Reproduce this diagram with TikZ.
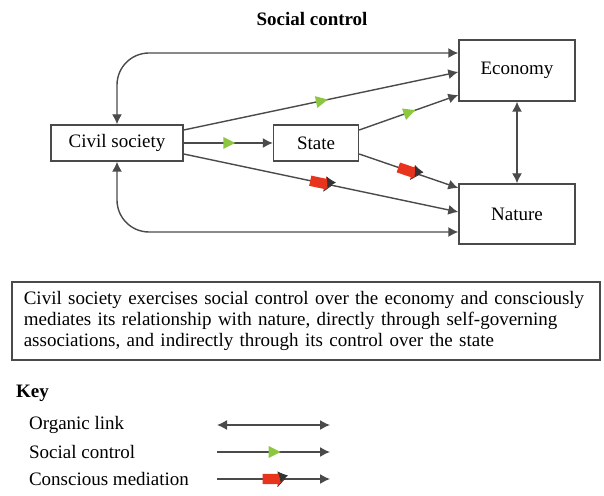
\documentclass[tikz,border=0pt]{standalone}
\usepackage{fontspec}
\setmainfont{Liberation Serif}
\usetikzlibrary{arrows.meta,positioning,decorations.markings}
\definecolor{ctlgreen}{HTML}{8DC63F}
\definecolor{medred}{HTML}{E8341C}
\definecolor{linegray}{HTML}{4A4A4A}

\begin{document}
\begin{tikzpicture}[x=0.5pt,y=-0.5pt,
  font=\fontsize{9.5}{11}\selectfont,
  box/.style={draw=linegray,line width=0.7pt,minimum height=18pt,inner sep=2pt},
  link/.style={draw=linegray,line width=0.7pt,-{Latex[length=5pt,width=5pt]}},
  both/.style={link,{Latex[length=5pt,width=5pt]}-{Latex[length=5pt,width=5pt]}},
  socialctl/.style={link,postaction={decorate},decoration={markings,mark=at position 0.5 with {
    \fill[ctlgreen] (-2.5pt,-3pt) -- (3.5pt,0pt) -- (-2.5pt,3pt) -- cycle;}}},
  mediation/.style={link,postaction={decorate},decoration={markings,mark=at position 0.5 with {
    \fill[medred] (-5.5pt,-2.6pt) -- (2pt,-2.6pt) -- (2pt,-3.8pt) -- (5.5pt,0pt) -- (2pt,3.8pt) -- (2pt,2.6pt) -- (-5.5pt,2.6pt) -- cycle;
    \draw[black!80,line width=0.35pt] (2pt,-3.8pt) -- (5.5pt,0pt) -- (2pt,3.8pt);}}}]
\useasboundingbox (0,0) rectangle (604,496);
% diagram
\node[font=\fontsize{9.5}{11}\selectfont\bfseries] (title) at (312,19) {Social control};
\node[box,minimum width=66pt] (civil) at (117,143) {Civil society};
\node[box,minimum width=42.5pt] (state) at (316,143) {State};
\node[box,minimum width=58pt,minimum height=30.5pt] (econ) at (517,70.5) {Economy};
\node[box,minimum width=58pt,minimum height=30pt] (nature) at (517,214) {Nature};
\draw[both,rounded corners=16pt] (civil.north) |- ([yshift=8.75pt]econ.west);
\draw[both,rounded corners=16pt] (civil.south) |- ([yshift=-9pt]nature.west);
\draw[socialctl] ([yshift=6.5pt]civil.east) -- ([yshift=-0.75pt]econ.west);
\draw[socialctl] (civil.east) -- (state.west);
\draw[socialctl] ([yshift=6.5pt]state.east) -- ([yshift=-12.25pt]econ.west);
\draw[mediation] ([yshift=-5.5pt]civil.east) -- ([yshift=1pt]nature.west);
\draw[mediation] ([yshift=-5.5pt]state.east) -- ([yshift=13pt]nature.west);
\draw[both] (econ.south) -- (nature.north);
% caption
\node[draw=linegray,line width=0.8pt,anchor=north west,minimum width=293.5pt,minimum height=39pt,
  text width=282pt,inner xsep=6pt,align=left,font=\fontsize{9.5}{10.5}\selectfont] (caption) at (11,281)
  {Civil society exercises social control over the economy and consciously\\
   mediates its relationship with nature, directly through self-governing\\
   associations, and indirectly through its control over the state};
% key
\node[anchor=west,font=\fontsize{9.5}{11}\selectfont\bfseries] (key) at (9,393) {Key};
\node[anchor=west] (organic) at (22,425) {Organic link};
\node[anchor=west] (social) at (22,452) {Social control};
\node[anchor=west] (conscious) at (22,479) {Conscious mediation};
\coordinate (org1) at (217,425); \coordinate (org2) at (330,425);
\coordinate (soc1) at (217,452); \coordinate (soc2) at (330,452);
\coordinate (con1) at (217,479); \coordinate (con2) at (330,479);
\draw[both] (org1) -- (org2);
\draw[socialctl] (soc1) -- (soc2);
\draw[mediation] (con1) -- (con2);
\end{tikzpicture}
\end{document}
